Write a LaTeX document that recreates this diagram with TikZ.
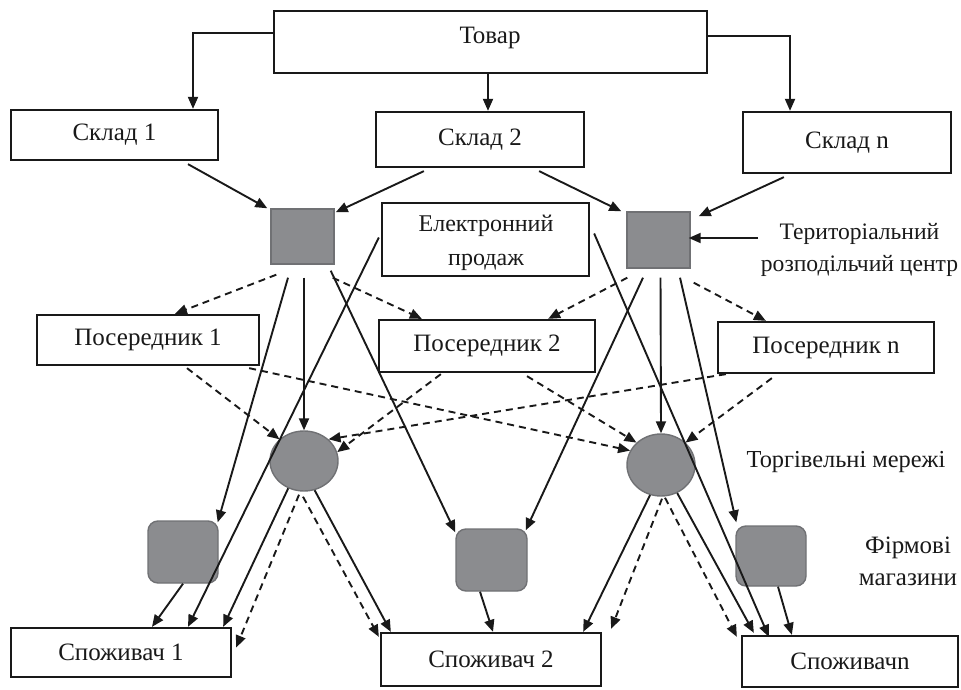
\documentclass[tikz,border=0pt]{standalone}
\usepackage{fontspec}
\setmainfont{Liberation Serif}
\usetikzlibrary{arrows.meta,shapes.geometric}
\definecolor{fillg}{RGB}{139,140,143}
\definecolor{edgeg}{RGB}{112,113,116}
\definecolor{ink}{RGB}{25,25,25}
\tikzset{
  box/.style={draw=ink,line width=1.15pt,fill=white,inner sep=0pt,font=\fontsize{12.5}{15}\selectfont,text=ink},
  dcbox/.style={draw=edgeg,line width=0.7pt,fill=fillg,inner sep=0pt},
  netw/.style={ellipse,draw=edgeg,line width=0.7pt,fill=fillg,inner sep=0pt},
  shop/.style={rounded corners=5pt,draw=edgeg,line width=0.7pt,fill=fillg,inner sep=0pt},
  lbl/.style={font=\fontsize{12.5}{16}\selectfont,text=ink,align=center,inner sep=0pt},
  arr/.style={draw=ink,line width=0.95pt,-{Triangle[length=6pt,width=5pt]}},
  darr/.style={arr,dash pattern=on 3.5pt off 2.5pt}
}
\begin{document}
\begin{tikzpicture}[x=0.5pt,y=-0.5pt]
\useasboundingbox (0,0) rectangle (961,689);
% boxes
\node[box,minimum width=216.5pt,minimum height=31pt] (tovar) at (490.5,42) {};
\node[lbl] (tovart) at (490,38) {Товар};
\node[box,minimum width=103.5pt,minimum height=25pt] (sk1) at (114.5,135) {Склад 1};
\node[box,minimum width=104pt,minimum height=27.5pt] (sk2) at (480,139.5) {Склад 2};
\node[box,minimum width=104pt,minimum height=30.5pt] (skn) at (847,142.5) {Склад n};
\node[box,minimum width=103.5pt,minimum height=36.5pt] (elp) at (485.5,239.5) {};
\node[lbl,font=\fontsize{12}{17}\selectfont] (elpt) at (486,243) {Електронний\\продаж};
\node[box,minimum width=111pt,minimum height=25pt] (pos1) at (148,340) {Посередник 1};
\node[box,minimum width=108pt,minimum height=26pt] (pos2) at (487,346) {Посередник 2};
\node[box,minimum width=108pt,minimum height=25.5pt] (posn) at (826,347.5) {Посередник n};
\node[box,minimum width=110pt,minimum height=24.5pt] (sp1) at (121,652.5) {Споживач 1};
\node[box,minimum width=110pt,minimum height=26.5pt] (sp2) at (491,659.5) {Споживач 2};
\node[box,minimum width=108pt,minimum height=25.5pt] (spn) at (850,661.5) {Споживачn};
% gray shapes
\node[dcbox,minimum width=31.5pt,minimum height=27.5pt] (dc1) at (302.5,236.5) {};
\node[dcbox,minimum width=31.5pt,minimum height=28pt] (dc2) at (658.5,240) {};
\node[netw,minimum width=34pt,minimum height=30pt] (c1) at (304,461) {};
\node[netw,minimum width=34pt,minimum height=31pt] (c2) at (661,465) {};
\node[shop,minimum width=35pt,minimum height=31pt] (f1) at (183,552) {};
\node[shop,minimum width=35.5pt,minimum height=31pt] (f2) at (491.5,560) {};
\node[shop,minimum width=35pt,minimum height=30pt] (f3) at (771,556) {};
% labels
\node[lbl,font=\fontsize{11.8}{16}\selectfont] (terr) at (859.5,250) {Територіальний\\розподільчий центр};
\node[lbl,font=\fontsize{12.2}{15}\selectfont] (torg) at (846,462) {Торгівельні мережі};
\node[lbl] (firm) at (908,561) {Фірмові\\магазини};
\coordinate (tin) at (758,238);
% top connectors
\draw[arr] ([shift={(0,-9)}]tovar.west) -| ([shift={(78.5,0)}]sk1.north);
\draw[arr] ([shift={(-2.5,0)}]tovar.south) -- ([shift={(-2.5,0)}]tovar.south |- sk2.north);
\draw[arr] ([shift={(0,-6)}]tovar.east) -| ([shift={(-57,0)}]skn.north);
% warehouses to DCs
\draw[arr] ([shift={(73.5,3)}]sk1.south) -- ([shift={(-3,0)}]dc1.north west);
\draw[arr] ([shift={(49,3)}]sk2.south west) -- ([shift={(1,4)}]dc1.north east);
\draw[arr] ([shift={(-46,3)}]sk2.south east) -- ([shift={(-5,0)}]dc2.north west);
\draw[arr] ([shift={(42,3)}]skn.south west) -- ([shift={(8,5)}]dc2.north east);
\draw[arr] (tin) -- ([xshift=-1pt]tin -| dc2.east);
% DC1 outgoing
\draw[darr] ([shift={(6,10)}]dc1.south west) -- ([shift={(27,0)}]pos1.north);
\draw[darr] ([shift={(-2,13)}]dc1.south east) -- ([shift={(44,0)}]pos2.north west);
\draw[arr] ([shift={(-14.5,13)}]dc1.south) -- ([shift={(-1,2)}]f1.north east);
\draw[arr] ([shift={(1.5,13)}]dc1.south) -- (c1.north);
\draw[arr] ([shift={(-4,6)}]dc1.south east) -- ([shift={(0,4)}]f2.north west);
% DC2 outgoing
\draw[darr] ([shift={(1,9)}]dc2.south west) -- ([shift={(-48,0)}]pos2.north east);
\draw[darr] ([shift={(3,14)}]dc2.south east) -- ([shift={(49,0)}]posn.north west);
\draw[arr] ([shift={(-15.5,9)}]dc2.south) -- ([shift={(-2,2)}]f2.north east);
\draw[arr] ([shift={(2,9)}]dc2.south) -- (c2.north);
\draw[arr] ([shift={(21.5,9)}]dc2.south) -- ([shift={(1,-3)}]f3.north west);
% electronic sales
\draw[arr] ([shift={(-2,-2)}]elp.west) -- ([shift={(67,0)}]sp1.north);
\draw[arr] ([shift={(4,-6)}]elp.east) -- ([shift={(28,2)}]spn.north west);
% intermediaries
\draw[darr] ([shift={(39,2)}]pos1.south) -- (c1.north west);
\draw[darr] ([shift={(-11,2)}]pos1.south east) -- (c2.155);
\draw[darr] ([shift={(63,1)}]pos2.south west) -- (c1.15);
\draw[darr] ([shift={(40,3)}]pos2.south) -- (c2.north west);
\draw[darr] ([shift={(9,0)}]posn.south west) -- (c1.north east);
\draw[darr] ([shift={(55,4)}]posn.south west) -- (c2.north east);
% network 1 outgoing
\draw[arr] (c1.-120) -- ([shift={(-9,0)}]sp1.north east);
\draw[darr] ([shift={(-5,3)}]c1.south) -- ([shift={(4,-5)}]sp1.east);
\draw[darr] ([shift={(-1,5)}]c1.south) -- ([shift={(-1,5)}]sp2.north west);
\draw[arr] (c1.-70) -- ([shift={(11,0)}]sp2.north west);
% network 2 outgoing
\draw[arr] (c2.-110) -- ([shift={(-19,0)}]sp2.north east);
\draw[darr] ([shift={(1,2)}]c2.south) -- ([shift={(9,-3)}]sp2.north east);
\draw[darr] ([shift={(4,1)}]c2.south) -- ([shift={(-4,2)}]spn.north west);
\draw[arr] (c2.-60) -- ([shift={(13,-2)}]spn.north west);
% shops
\draw[arr] (f1.south) -- ([shift={(31,0)}]sp1.north);
\draw[arr] ([shift={(-11.5,0)}]f2.south) -- ([shift={(2,0)}]sp2.north);
\draw[arr] ([shift={(7,0)}]f3.south) -- ([shift={(51,0)}]spn.north west);
\end{tikzpicture}
\end{document}
